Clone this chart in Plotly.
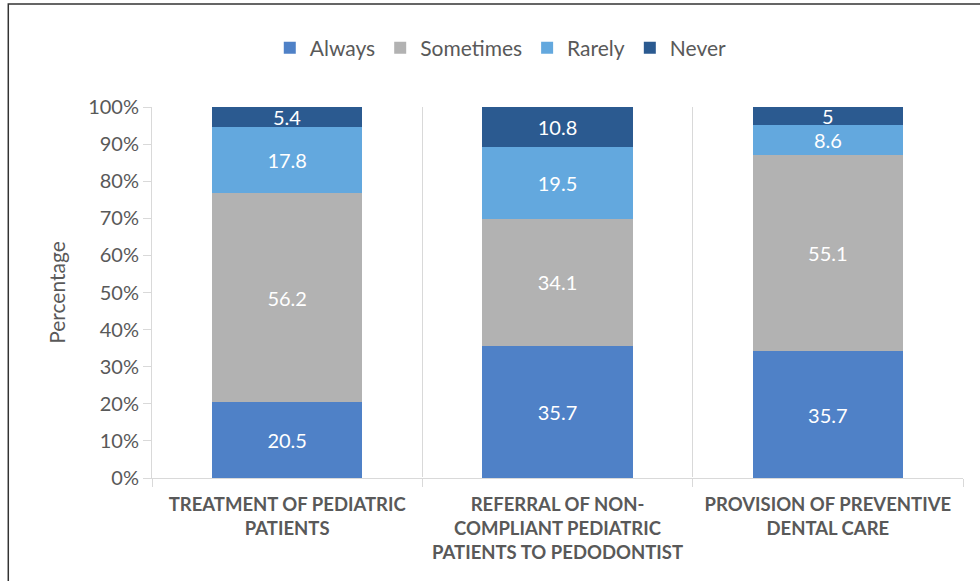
import plotly.graph_objects as go

categories = ["TREATMENT OF PEDIATRIC<br>PATIENTS",
              "REFERRAL OF NON-<br>COMPLIANT PEDIATRIC<br>PATIENTS TO PEDODONTIST",
              "PROVISION OF PREVENTIVE<br>DENTAL CARE"]
always = [20.5, 35.7, 35.7]
sometimes = [56.2, 34.1, 55.1]
rarely = [17.8, 19.5, 8.6]
never = [5.4, 10.8, 5]
series = [("Always", always, "#4F81C7"),
          ("Sometimes", sometimes, "#B2B2B2"),
          ("Rarely", rarely, "#63A8DE"),
          ("Never", never, "#2B5A90")]
ytickvals = [0, 10, 20, 30, 40, 50, 60, 70, 80, 90, 100]
yticktext = [f"{v}%" for v in ytickvals]

FONT = "Lato"
GRAY = "#595959"

fig = go.Figure()
for name, vals, col in series:
    fig.add_trace(go.Bar(
        x=categories, y=vals, name=name, marker=dict(color=col, line=dict(width=0)),
        text=[str(v) for v in vals], texttemplate="%{text}",
        textposition="inside", insidetextanchor="middle", constraintext="none",
        textangle=0,
        textfont=dict(color="white", size=20, family=FONT),
        width=0.555,
    ))

fig.update_layout(
    barmode="stack", barnorm="percent",
    width=980, height=581,
    margin=dict(l=152, r=17, t=107, b=103),
    paper_bgcolor="white", plot_bgcolor="white",
    font=dict(family=FONT, color=GRAY, size=19),
    legend=dict(orientation="h", xref="container", yref="container",
                x=0.511, xanchor="center", y=0.917, yanchor="middle",
                font=dict(size=21, color=GRAY, family=FONT),
                traceorder="normal", itemwidth=30),
    xaxis=dict(tickson="boundaries", showgrid=True, gridcolor="#D9D9D9", gridwidth=1,
               showline=True, linecolor="#D9D9D9", ticks="outside", ticklen=8,
               tickcolor="#D9D9D9",
               tickfont=dict(size=18.5, color=GRAY, family=FONT, weight="bold"),
               ticklabelstandoff=10),
    yaxis=dict(range=[0, 100], tickvals=ytickvals, ticktext=yticktext,
               showgrid=False, showline=True, linecolor="#D9D9D9",
               ticks="outside", ticklen=8, tickcolor="#D9D9D9",
               tickfont=dict(size=20, color=GRAY, family=FONT),
               title=dict(text="Percentage", font=dict(size=21, color=GRAY, family=FONT),
                          standoff=16)),
    shapes=[dict(type="rect", xref="paper", yref="paper",
                 x0=-0.1772, x1=1.2, y0=-0.6, y1=1.2776,
                 line=dict(color="#333333", width=1.5), layer="below")],
)

fig.write_html("out.html")
